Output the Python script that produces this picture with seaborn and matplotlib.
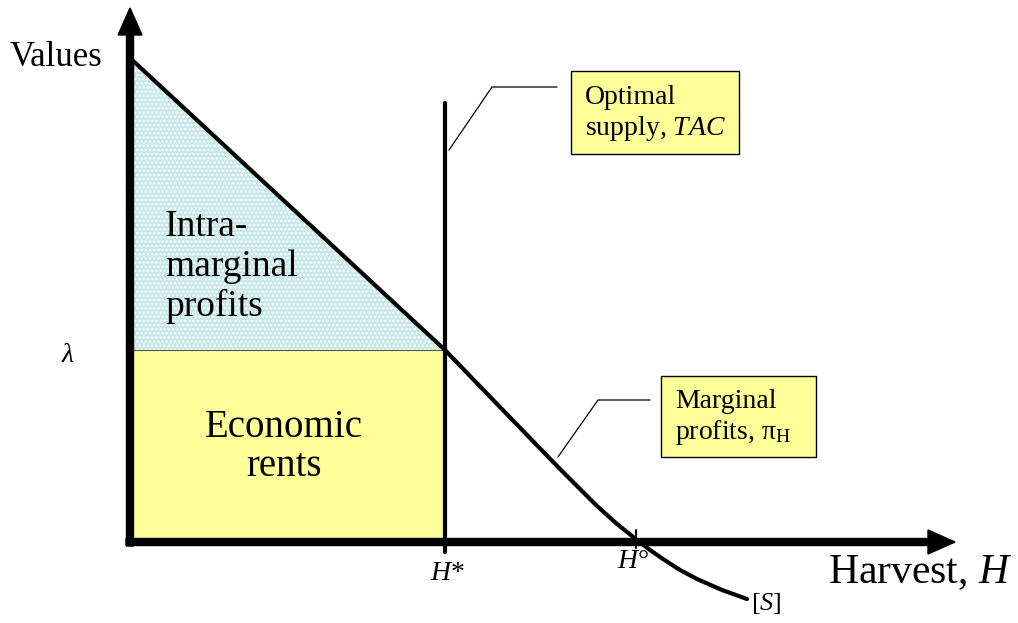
import numpy as np
import matplotlib
matplotlib.use("Agg")
import matplotlib.pyplot as plt
from matplotlib.patches import Rectangle
import seaborn as sns

# Diagram data (units: pixel offsets from the axis origin)
curve_h = [0, 315, 340, 367, 398, 428, 450, 467, 487, 507, 520, 533, 550, 567, 592, 617]
curve_v = [484, 192, 166, 138, 106, 75, 53, 36, 18, 2, -8, -17, -28, -37, -48, -57]
h_star = 315
h_zero = 506
lam = 192
tac_top = 439

sns.set_theme(style="white")
plt.rcParams["font.family"] = ["Liberation Serif", "DejaVu Serif"]
plt.rcParams["text.color"] = "black"
plt.rcParams["mathtext.fontset"] = "custom"
plt.rcParams["mathtext.rm"] = "Liberation Serif"
plt.rcParams["mathtext.it"] = "Liberation Serif:italic"
plt.rcParams["hatch.linewidth"] = 1.2

fig = plt.figure(figsize=(10.18, 6.23), dpi=100)
ax = fig.add_axes([0, 0, 1, 1])
ax.set_xlim(-130, 888)
ax.set_ylim(-81, 542)
ax.axis("off")

# shaded areas
seg_h = np.array([h for h in curve_h if h <= h_star])
seg_v = np.array(curve_v[:len(seg_h)])
ax.fill_between(seg_h, lam, seg_v, facecolor="#c6e7e7", edgecolor="white",
                hatch="....", linewidth=0, zorder=1)
ax.add_patch(Rectangle((0, 0), h_star, lam, facecolor="#ffff99", edgecolor="none", zorder=1))
ax.plot([0, h_star], [lam, lam], color="#555555", lw=0.8, zorder=2)

# marginal profits curve
sns.lineplot(x=curve_h, y=curve_v, sort=False, color="black", lw=3, ax=ax, zorder=3)

# optimal supply line
ax.plot([h_star, h_star], [-10, tac_top], color="black", lw=3, zorder=3)
ax.plot([h_zero, h_zero], [-6, 12], color="black", lw=1.5, zorder=3)

# axes with arrows
ax.arrow(0, -4, 0, 538, width=7, head_width=24, head_length=27,
         length_includes_head=True, color="black", zorder=4)
ax.arrow(-4, 0, 829, 0, width=7, head_width=24, head_length=27,
         length_includes_head=True, color="black", zorder=4)

# labels
ax.text(-120, 485, "Values", fontsize=25, va="center", ha="left")
ax.text(-62, 187, r"$\lambda$", fontsize=20, va="center", ha="center")
ax.text(35, 275, "Intra-\nmarginal\nprofits", fontsize=27, va="center", ha="left",
        linespacing=1.2, zorder=5)
ax.text(154, 95, "Economic\nrents", fontsize=28, va="center", ha="center",
        linespacing=1.1, zorder=5)
ax.text(698, -31, "Harvest, $H$", fontsize=30, va="center", ha="left")
ax.text(300, -31, "$H$*", fontsize=20, va="center", ha="left")
ax.text(487, -19, "$H$°", fontsize=20, va="center", ha="left")
ax.text(621, -61, "[$S$]", fontsize=19, va="center", ha="left")

# callout boxes
ax.add_patch(Rectangle((441, 388), 168, 83, facecolor="#ffff99", edgecolor="black", lw=1, zorder=5))
ax.text(455, 428, "Optimal\nsupply, $TAC$", fontsize=20, va="center", ha="left",
        linespacing=1.2, zorder=6)
ax.plot([319, 362, 427], [392, 455, 455], color="black", lw=0.9, zorder=3)

ax.add_patch(Rectangle((531, 85), 155, 81, facecolor="#ffff99", edgecolor="black", lw=1, zorder=5))
ax.text(545, 124, "Marginal\nprofits, $\\mathrm{\\pi_H}$", fontsize=20, va="center",
        ha="left", linespacing=1.2, zorder=6)
ax.plot([428, 468, 520], [85, 142, 142], color="black", lw=0.9, zorder=3)

fig.savefig("out.png", dpi=100)
